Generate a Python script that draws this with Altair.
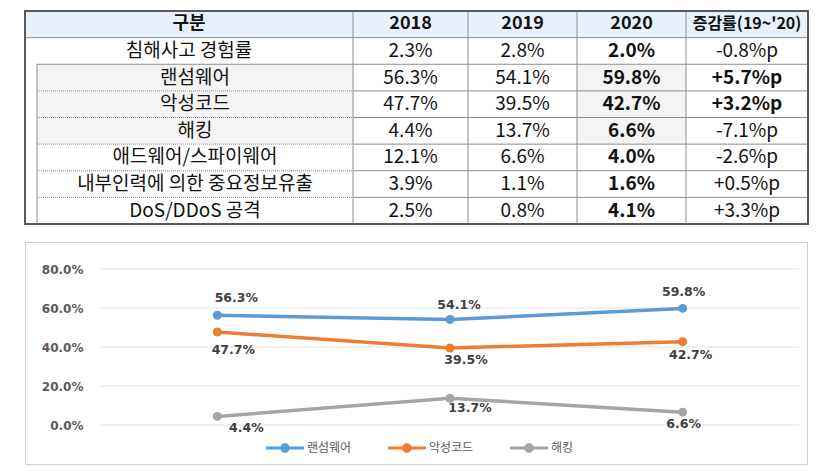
import altair as alt
import pandas as pd

# ---------------- data ----------------
categories = ["침해사고 경험률", "랜섬웨어", "악성코드", "해킹", "애드웨어/스파이웨어",
              "내부인력에 의한 중요정보유출", "DoS/DDoS 공격"]
header = ["구분", "2018", "2019", "2020", "증감률(19~'20)"]
years = ["2018", "2019", "2020"]
v2018 = [2.3, 56.3, 47.7, 4.4, 12.1, 3.9, 2.5]
v2019 = [2.8, 54.1, 39.5, 13.7, 6.6, 1.1, 0.8]
v2020 = [2.0, 59.8, 42.7, 6.6, 4.0, 1.6, 4.1]
change = ["-0.8%p", "+5.7%p", "+3.2%p", "-7.1%p", "-2.6%p", "+0.5%p", "+3.3%p"]
change_bold = [False, True, True, False, False, False, False]
chart_series = ["랜섬웨어", "악성코드", "해킹"]
y_ticks = [0, 20, 40, 60, 80]

# ---------------- styles / layout ----------------
KFONT = "Noto Sans CJK KR"
HEADER_FILL = "#e8f1fb"
SHADE = "#f4f4f4"
LINE_COL = "#8c8c8c"
series_colors = ["#5b9bd5", "#ed7d31", "#a5a5a5"]

TW, TH = 783, 213
col_edges = [0, 328, 443, 552, 661, 783]
indent = 12
NROWS = 8

CW, CH = 782, 222
PX = [76, 774]
PY = [183, 27]

# label offsets (dx, dy) per series and year
label_off = {
    "랜섬웨어": {"2018": (19, -17), "2019": (9, -15), "2020": (1, -16)},
    "악성코드": {"2018": (16, 18), "2019": (16, 12), "2020": (8, 13)},
    "해킹": {"2018": (29, 12), "2019": (20, 10), "2020": (1, 12)},
}

# ---------------- table ----------------
cells = []
for r in range(NROWS):
    for c in range(5):
        x0 = col_edges[c]
        if c == 0 and r >= 2:
            x0 = indent
        if r == 0:
            fill = HEADER_FILL
        elif r in (2, 3, 4) and c in (0, 3):
            fill = SHADE
        else:
            fill = "#ffffff"
        cells.append(dict(x0=x0, x1=col_edges[c + 1], y0=r, y1=r + 1, fill=fill))
cells = pd.DataFrame(cells)

solid = []
for e in col_edges[1:-1]:
    solid.append(dict(x=e, x2=e, y=0, y2=NROWS))
solid.append(dict(x=indent, x2=indent, y=2, y2=NROWS))
solid.append(dict(x=0, x2=TW, y=1, y2=1))
solid.append(dict(x=indent, x2=TW, y=2, y2=2))
for r in range(3, NROWS):
    solid.append(dict(x=col_edges[1], x2=TW, y=r, y2=r))
solid = pd.DataFrame(solid)
dotted = pd.DataFrame([dict(x=indent, x2=col_edges[1], y=r, y2=r) for r in range(3, NROWS)])
frame = pd.DataFrame([dict(x0=0, x1=TW, y0=0, y1=NROWS)])

texts = []
for c, h in enumerate(header):
    texts.append(dict(x=(col_edges[c] + col_edges[c + 1]) / 2, y=0.5, text=h,
                      kind="hsmall" if c == 4 else "head"))
for i, cat in enumerate(categories):
    r = i + 1
    x0 = 0 if r == 1 else indent
    texts.append(dict(x=(x0 + col_edges[1]) / 2, y=r + 0.5, text=cat, kind="body"))
    for c, vals in zip([1, 2, 3], [v2018, v2019, v2020]):
        texts.append(dict(x=(col_edges[c] + col_edges[c + 1]) / 2, y=r + 0.5,
                          text=f"{vals[i]:.1f}%", kind="bold" if c == 3 else "body"))
    texts.append(dict(x=(col_edges[4] + col_edges[5]) / 2, y=r + 0.5, text=change[i],
                      kind="bold" if change_bold[i] else "body"))
texts = pd.DataFrame(texts)

tx = alt.Scale(domain=[0, TW], range=[0, TW], nice=False, zero=False)
ty = alt.Scale(domain=[0, NROWS], range=[0, TH], nice=False, zero=False)

t_cells = alt.Chart(cells).mark_rect(strokeWidth=0).encode(
    x=alt.X("x0:Q", scale=tx, axis=None), x2="x1:Q",
    y=alt.Y("y0:Q", scale=ty, axis=None), y2="y1:Q",
    fill=alt.Fill("fill:N", scale=None))
t_solid = alt.Chart(solid).mark_rule(color=LINE_COL, strokeWidth=1).encode(
    x=alt.X("x:Q", scale=tx, axis=None), x2="x2:Q",
    y=alt.Y("y:Q", scale=ty, axis=None), y2="y2:Q")
t_dot = alt.Chart(dotted).mark_rule(color=LINE_COL, strokeWidth=1, strokeDash=[1, 1]).encode(
    x=alt.X("x:Q", scale=tx, axis=None), x2="x2:Q",
    y=alt.Y("y:Q", scale=ty, axis=None), y2="y2:Q")
t_frame = alt.Chart(frame).mark_rect(fillOpacity=0, stroke="#595959", strokeWidth=2).encode(
    x=alt.X("x0:Q", scale=tx, axis=None), x2="x1:Q",
    y=alt.Y("y0:Q", scale=ty, axis=None), y2="y1:Q")


def ttext(kind, size, weight):
    return alt.Chart(texts).transform_filter(alt.datum.kind == kind).mark_text(
        font=KFONT, fontSize=size, fontWeight=weight, color="#111111",
        baseline="middle", align="center").encode(
        x=alt.X("x:Q", scale=tx, axis=None),
        y=alt.Y("y:Q", scale=ty, axis=None),
        text="text:N")


table = alt.layer(
    t_cells, t_solid, t_dot, t_frame,
    ttext("head", 18, "bold"), ttext("hsmall", 16, "bold"),
    ttext("body", 19, "normal"), ttext("bold", 19, "bold"),
).properties(width=TW, height=TH,
             view=alt.ViewBackground(strokeWidth=0, fill="#ffffff"))

# ---------------- line chart ----------------
long = []
for s in chart_series:
    i = categories.index(s)
    for y, vals in zip(years, [v2018, v2019, v2020]):
        long.append(dict(series=s, year=y, value=vals[i], label=f"{vals[i]:.1f}%"))
long = pd.DataFrame(long)
ticks = pd.DataFrame({"tick": y_ticks})

xs = alt.Scale(type="point", domain=years, range=PX, padding=0.5)
ys = alt.Scale(domain=[0, 80], range=PY, nice=False, zero=False)
cs = alt.Scale(domain=chart_series, range=series_colors)

yaxis = alt.Axis(
    values=y_ticks, labelExpr="format(datum.value, '.1f') + '%'",
    orient="left", offset=-60, labelPadding=2, ticks=False, domain=False,
    grid=False, title=None, labelFont="DejaVu Sans", labelFontWeight="bold",
    labelFontSize=12, labelColor="#595959")

legend_path = ("M-1,-0.08H-0.2V0.08H-1Z M0.2,-0.08H1V0.08H0.2Z "
               "M-0.25,0A0.25,0.25 0 1,1 0.25,0A0.25,0.25 0 1,1 -0.25,0Z")
leg = alt.Legend(
    title=None, orient="none", direction="horizontal", legendX=241, legendY=418,
    symbolType=legend_path, symbolSize=1444, symbolStrokeWidth=0,
    symbolFillColor="#5b9bd5",
    labelFont=KFONT, labelFontSize=12, labelColor="#595959",
    labelOffset=3, columnPadding=36, padding=0, symbolOpacity=1)

grid = alt.Chart(ticks).mark_rule(color="#e3e3e3", strokeWidth=1).encode(
    y=alt.Y("tick:Q", scale=ys, axis=yaxis),
    x=alt.value(PX[0]), x2=alt.value(PX[1]))

lines = alt.Chart(long).mark_line(strokeWidth=3.5).encode(
    x=alt.X("year:N", scale=xs, axis=None),
    y=alt.Y("value:Q", scale=ys, axis=yaxis),
    color=alt.Color("series:N", scale=cs, legend=leg),
    detail="series:N")

points = alt.Chart(long).mark_point(filled=True, size=80, opacity=1).encode(
    x=alt.X("year:N", scale=xs, axis=None),
    y=alt.Y("value:Q", scale=ys, axis=yaxis),
    color=alt.Color("series:N", scale=cs, legend=leg))

label_layers = []
for s in chart_series:
    for y in years:
        dx, dy = label_off[s][y]
        label_layers.append(
            alt.Chart(long).transform_filter(
                (alt.datum.series == s) & (alt.datum.year == y)
            ).mark_text(font="DejaVu Sans", fontWeight="bold", fontSize=12.5,
                        color="#404040", dx=dx, dy=dy, baseline="middle", align="center").encode(
                x=alt.X("year:N", scale=xs, axis=None),
                y=alt.Y("value:Q", scale=ys, axis=yaxis),
                text="label:N"))

linechart = alt.layer(grid, lines, points, *label_layers).properties(
    width=CW, height=CH,
    view=alt.ViewBackground(stroke="#d0d0d0", strokeWidth=1, fill="#ffffff"))

chart = alt.vconcat(table, linechart, spacing=18, bounds="flush").properties(
    padding={"left": 16, "top": 2, "right": 0, "bottom": 0}
).configure(font=KFONT, background="#ffffff")

chart.save("out.html", embed_options={"renderer": "svg", "actions": False})
